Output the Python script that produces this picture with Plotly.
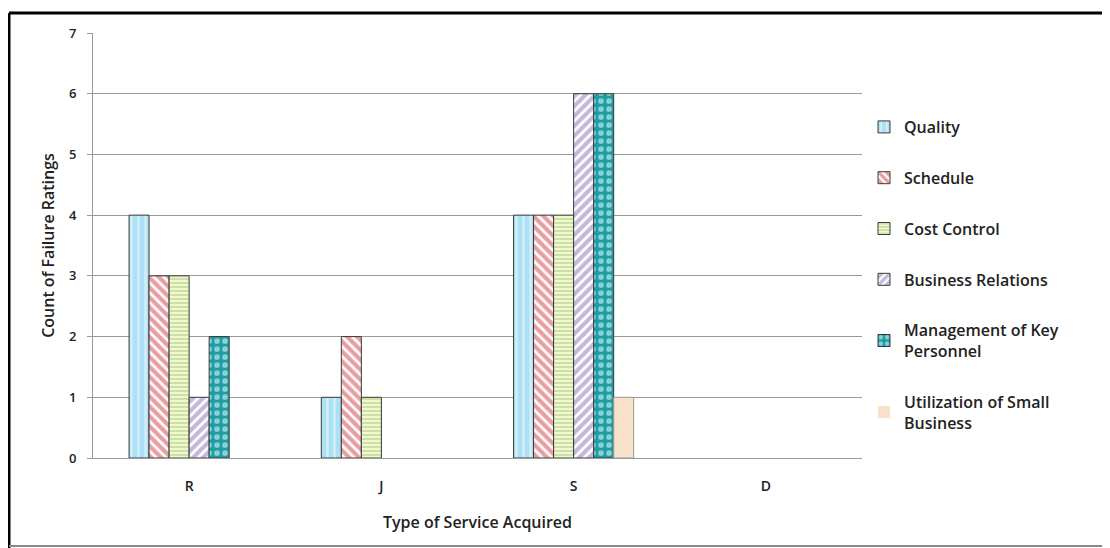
import plotly.graph_objects as go

# Counts of failure ratings by type of service acquired
services = ["R", "J", "S", "D"]
quality = [4, 1, 4, 0]
schedule = [3, 2, 4, 0]
cost_control = [3, 1, 4, 0]
business_relations = [1, 0, 6, 0]
key_personnel = [2, 0, 6, 0]
small_business = [0, 0, 1, 0]

FONT = "Open Sans"
TEXT = "#222222"
GRID = "#9a9a9a"

series = [
    ("Quality", quality, dict(shape="|", bgcolor="#ade0f4", fgcolor="#ffffff", size=7, solidity=0.3)),
    ("Schedule", schedule, dict(shape="\\", bgcolor="#ffffff", fgcolor="#d23c45", size=7, solidity=0.6)),
    ("Cost Control", cost_control, dict(shape="-", bgcolor="#f7f9d6", fgcolor="#9fcb74", size=4, solidity=0.55)),
    ("Business Relations", business_relations, dict(shape="/", bgcolor="#ffffff", fgcolor="#8a74b8", size=7, solidity=0.6)),
    ("Management of Key<br>Personnel", key_personnel, dict(shape=".", bgcolor="#1c9ea5", fgcolor="#ffffff", size=8, solidity=0.4)),
    ("Utilization of Small<br>Business", small_business, dict(shape="", bgcolor="#f7e1cb", fgcolor="#f7e1cb")),
]

fig = go.Figure()
for i, (name, values, pattern) in enumerate(series):
    fig.add_trace(
        go.Bar(
            x=services,
            y=values,
            name=name,
            legendgroup=f"g{i}",
            marker={
                "color": pattern["bgcolor"],
                "pattern": pattern,
                "line": {
                    "color": "#3a3a3a" if i < 5 else "#9a9a9a",
                    # no outline on empty bars
                    "width": [1 if v else 0 for v in values],
                },
            },
        )
    )

# page has an 8px body margin; plot area sits at 93..862 x 33..458 on the page
W, H = 769, 425


def px(x):
    return (x - 93) / W


def py(y):
    return (458 - y) / H


fig.update_layout(
    width=1102,
    height=540,
    margin={"l": 85, "r": 248, "t": 25, "b": 90},
    paper_bgcolor="white",
    plot_bgcolor="white",
    barmode="group",
    bargap=0.375,
    bargroupgap=0,
    font={"family": FONT, "color": TEXT, "size": 13},
    legend={
        "x": px(864),
        "y": py(110),
        "xanchor": "left",
        "yanchor": "top",
        "font": {"size": 16, "family": FONT, "weight": 600},
        "tracegroupgap": 27,
        "itemwidth": 30,
        "bgcolor": "rgba(0,0,0,0)",
    },
    xaxis={
        "showline": True,
        "linecolor": GRID,
        "ticks": "",
        "ticklabelstandoff": 15,
        "tickfont": {"size": 14, "weight": 600},
        "title": {
            "text": "Type of Service Acquired",
            "font": {"size": 16, "weight": 600},
            "standoff": 23,
        },
    },
    yaxis={
        "range": [0, 7],
        "dtick": 1,
        "showline": True,
        "linecolor": GRID,
        "ticks": "outside",
        "ticklen": 5,
        "tickcolor": GRID,
        "ticklabelstandoff": 8,
        "showgrid": True,
        "gridcolor": GRID,
        "gridwidth": 1,
        "zeroline": False,
        "tickfont": {"size": 13, "weight": 600},
        "title": {
            "text": "Count of Failure Ratings",
            "font": {"size": 16, "weight": 600},
            "standoff": 10,
        },
    },
    shapes=[
        # outer frame of the pasted chart
        dict(type="line", xref="paper", yref="paper", x0=px(9), x1=px(1120), y0=py(13), y1=py(13),
             line={"color": "black", "width": 3}),
        dict(type="line", xref="paper", yref="paper", x0=px(9), x1=px(9), y0=py(13), y1=py(560),
             line={"color": "black", "width": 3}),
        dict(type="line", xref="paper", yref="paper", x0=px(9), x1=px(1120), y0=py(546), y1=py(546),
             line={"color": "#888888", "width": 2}),
    ],
)

fig.write_html("out.html")
